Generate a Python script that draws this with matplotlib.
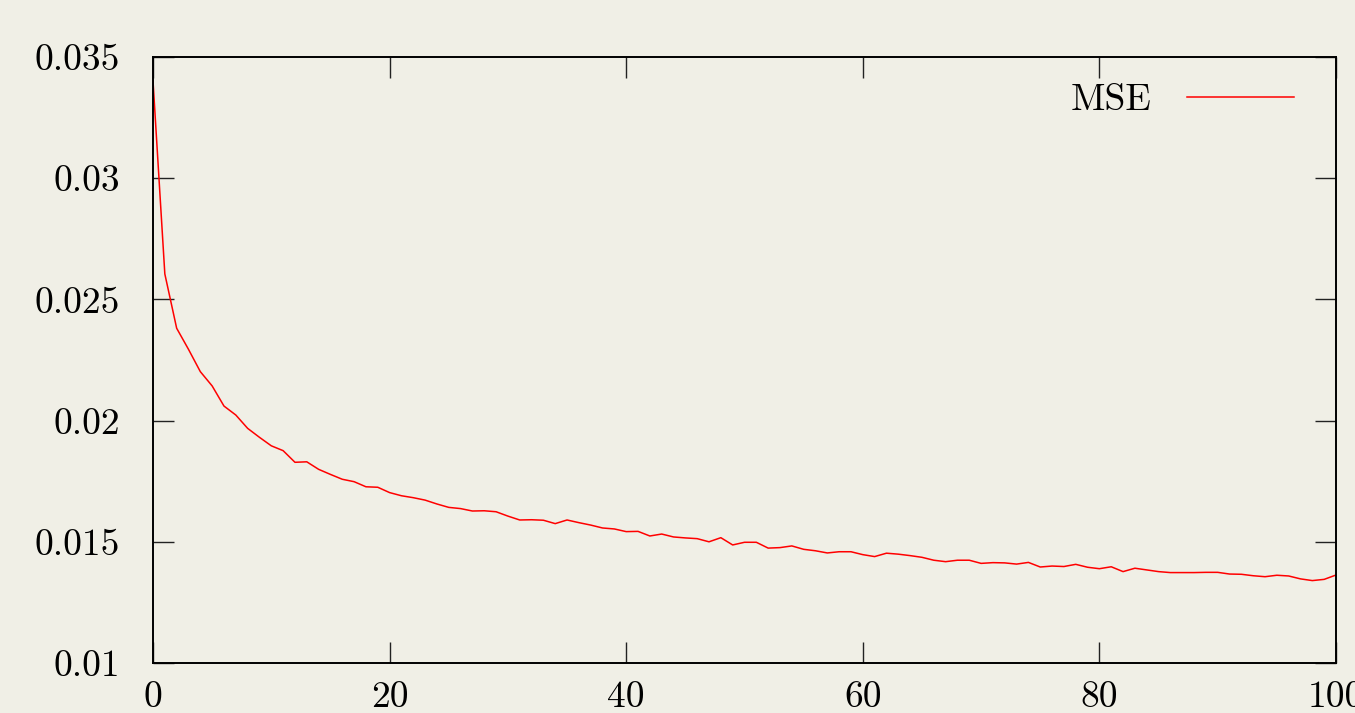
import matplotlib
matplotlib.use("Agg")
import matplotlib.pyplot as plt
import numpy as np

epochs = list(range(0, 101))
mse = [
    0.03402, 0.02605, 0.02381, 0.02294, 0.02202, 0.02143, 0.02060, 0.02023, 0.01968, 0.01931,
    0.01896, 0.01876, 0.01828, 0.01830, 0.01799, 0.01778, 0.01758, 0.01748, 0.01727, 0.01725,
    0.01703, 0.01690, 0.01682, 0.01672, 0.01656, 0.01642, 0.01637, 0.01627, 0.01628, 0.01624,
    0.01606, 0.01590, 0.01591, 0.01589, 0.01575, 0.01590, 0.01579, 0.01569, 0.01557, 0.01553,
    0.01542, 0.01543, 0.01524, 0.01532, 0.01520, 0.01516, 0.01513, 0.01500, 0.01517, 0.01487,
    0.01498, 0.01498, 0.01474, 0.01476, 0.01483, 0.01469, 0.01463, 0.01454, 0.01459, 0.01459,
    0.01447, 0.01439, 0.01453, 0.01449, 0.01443, 0.01436, 0.01424, 0.01418, 0.01424, 0.01424,
    0.01411, 0.01414, 0.01413, 0.01408, 0.01415, 0.01396, 0.01400, 0.01398, 0.01407, 0.01395,
    0.01389, 0.01397, 0.01377, 0.01391, 0.01384, 0.01377, 0.01373, 0.01373, 0.01373, 0.01374,
    0.01374, 0.01367, 0.01366, 0.01360, 0.01356, 0.01362, 0.01359, 0.01347, 0.01340, 0.01345,
    0.01363,
]
xticks = [0, 20, 40, 60, 80, 100]
xticklabels = ["0", "20", "40", "60", "80", "100"]
yticks = [0.01, 0.015, 0.02, 0.025, 0.03, 0.035]
yticklabels = ["0.01", "0.015", "0.02", "0.025", "0.03", "0.035"]
series_label = "MSE"

bg = "#f0efe6"
plt.rcParams["font.family"] = ["cmr10", "DejaVu Serif"]
plt.rcParams["axes.formatter.use_mathtext"] = True

fig = plt.figure(figsize=(13.55, 7.13), dpi=100, facecolor=bg)
ax = fig.add_axes([153 / 1355, 1 - 663 / 713, (1336 - 153) / 1355, (663 - 57) / 713])
ax.set_facecolor(bg)

ax.plot(epochs, mse, color="#ff0000", lw=1.1, label=series_label)

ax.set_xlim(0, 100)
ax.set_ylim(0.01, 0.035)
ax.set_xticks(xticks)
ax.set_xticklabels(xticklabels)
ax.set_yticks(yticks)
ax.set_yticklabels(yticklabels)
ax.tick_params(direction="in", length=15, width=1.0, color="#222222",
               top=True, right=True, labelsize=27)
ax.tick_params(axis="x", pad=13)
ax.tick_params(axis="y", pad=24)
for s in ax.spines.values():
    s.set_linewidth(1.4)
    s.set_color("black")

leg = ax.legend(loc="upper right", markerfirst=False, frameon=False,
                fontsize=27, handlelength=2.85, handletextpad=0.95,
                bbox_to_anchor=(0.993, 1.012))

fig.savefig("out.png", dpi=100, facecolor=bg)
